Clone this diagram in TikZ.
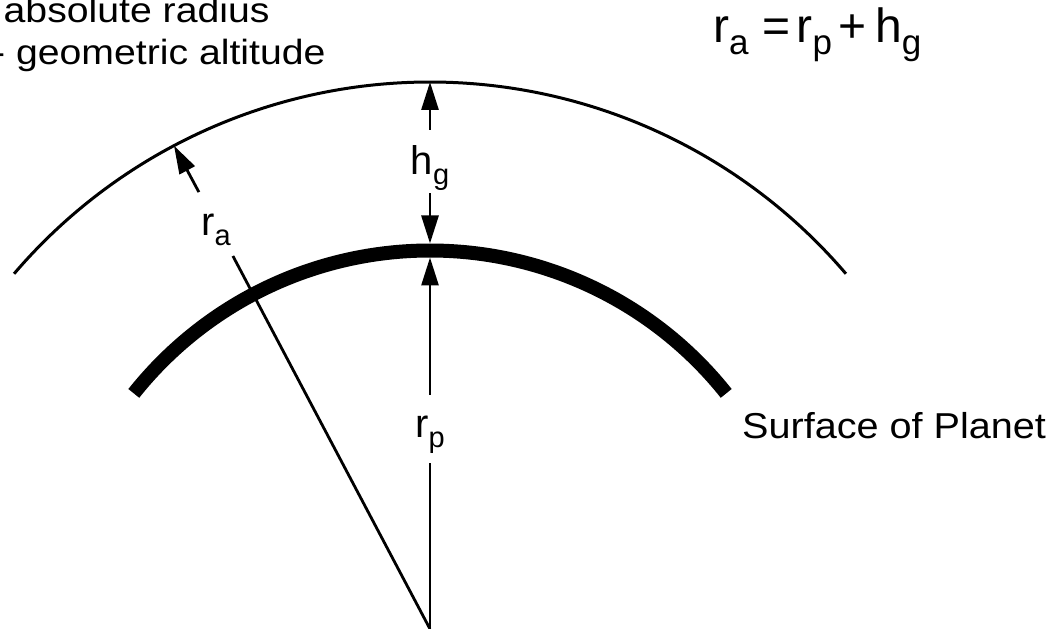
\documentclass[tikz,border=0pt]{standalone}
\usepackage{fontspec}
\setmainfont{Liberation Sans}
\newfontfamily\wideA[FakeStretch=1.12]{Liberation Sans}
\newfontfamily\wideB[FakeStretch=1.1]{Liberation Sans}
\usetikzlibrary{arrows.meta}
\newcommand{\lbl}[2]{\fontsize{40}{40}\selectfont #1\raisebox{-10pt}{\fontsize{29}{29}\selectfont #2}}
\newcommand{\fsub}[1]{\raisebox{-12pt}{\fontsize{35}{35}\selectfont #1}}
\begin{document}
\begin{tikzpicture}[x=1pt,y=1pt,
  thinline/.style={line width=2.8pt},
  arr/.style={thinline,-{Triangle[length=28pt,width=17pt]}},
  side/.style={anchor=base west,inner sep=0pt},
  vlab/.style={rectangle,inner sep=0pt,anchor=base}]
\clip (0,0) rectangle (1050,629);
% key points
\coordinate (O) at (430,0);
\coordinate (outerTop) at (430,547);
\coordinate (innerTopEdge) at (430,385.5);
\coordinate (innerBotEdge) at (430,371.5);
\coordinate (raTip) at (174,483.3);
% arcs
\draw[line width=3pt] (O) ++(40.5:547) arc[start angle=40.5,end angle=139.5,radius=547];
\draw[line width=14pt] (O) ++(38.5:378.5) arc[start angle=38.5,end angle=141.5,radius=378.5];
% labels
\node[vlab,text height=45pt,text depth=18pt] (hg) at (430,454) {\lbl{h}{g}};
\node[vlab,text height=43pt,text depth=25pt] (rp) at (430,191) {\lbl{r}{p}};
\node[circle,inner sep=0pt,minimum size=72pt,text height=34pt,text depth=10pt] (ra) at (216,405) {\lbl{r}{a}};
% connectors
\draw[arr] (hg.north) -- (outerTop);
\draw[arr] (hg.south) -- (innerTopEdge);
\draw[thinline] (O) -- (rp.south);
\draw[arr] (rp.north) -- (innerBotEdge);
\draw[thinline] (O) -- (ra);
\draw[arr] (ra) -- (raTip);
% texts
\node[side] (formula) at (713,586) {\fontsize{48}{48}\selectfont r\fsub{a}\hspace{14pt}=\hspace{6pt}r\fsub{p}\hspace{6pt}+\hspace{9pt}h\fsub{g}};
\node[side] (surf) at (742,190) {\wideB\fontsize{36}{36}\selectfont Surface of Planet};
\node[side] (absr) at (3.5,606) {\wideA\fontsize{35}{35}\selectfont absolute radius};
\node[side] (geo) at (-8,564) {\wideA\fontsize{35}{35}\selectfont - geometric altitude};
\end{tikzpicture}
\end{document}
